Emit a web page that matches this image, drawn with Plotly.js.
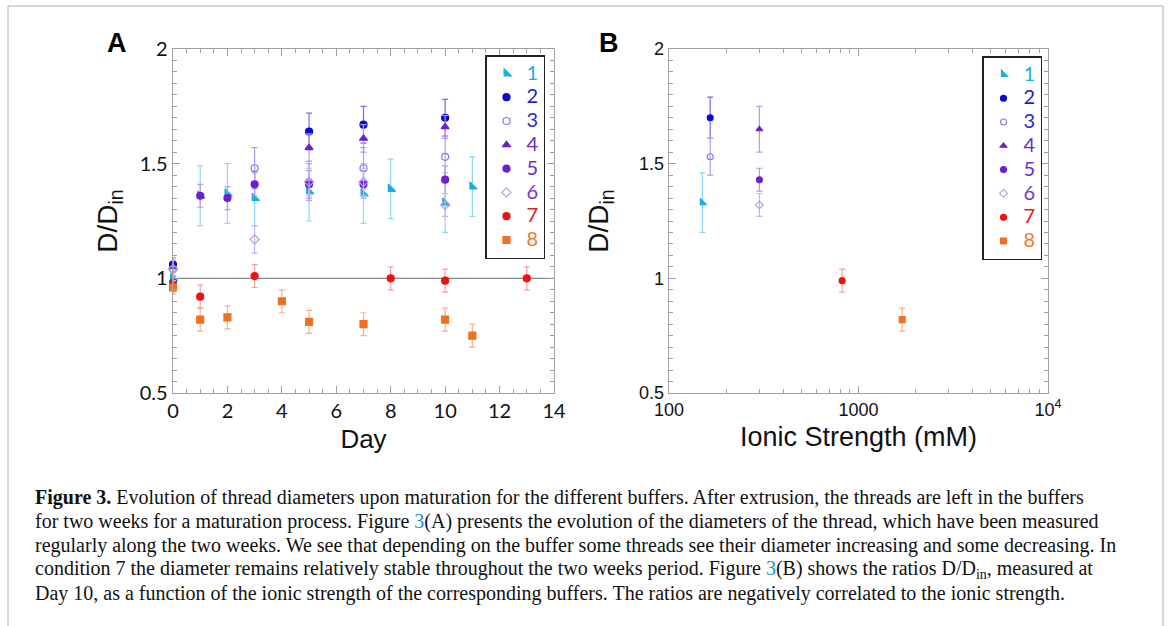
<!DOCTYPE html>
<html><head><meta charset="utf-8">
<script src="https://cdn.plot.ly/plotly-3.0.1.min.js"></script>
<style>html,body{margin:0;padding:0;background:#fff}#chart{width:1170px;height:626px}</style>
</head><body><div id="chart"></div>
<script>
// ---------- Panel A data (Day vs D/Din) ----------
const seriesNames = ['1','2','3','4','5','6','7','8'];
const dayS1 = [0,1,2,3,5,7,8,10,11];
const valS1 = [1.00,1.36,1.37,1.35,1.38,1.37,1.39,1.33,1.40];
const errS1 = [0.03,0.13,0.13,0.12,0.13,0.13,0.13,0.13,0.13];
const dayS2 = [0,5,7,10];
const valS2 = [1.06,1.64,1.67,1.70];
const errS2 = [0.03,0.08,0.08,0.08];
const dayS3 = [0,3,5,7,10];
const valS3 = [1.04,1.48,1.42,1.48,1.53];
const errS3 = [0.04,0.09,0.08,0.09,0.09];
const dayS4 = [0,5,7,10];
const valS4 = [1.05,1.57,1.61,1.66];
const errS4 = [0.04,0.06,0.06,0.05];
const dayS5 = [0,1,2,3,5,7,10];
const valS5 = [0.98,1.36,1.35,1.41,1.41,1.41,1.43];
const errS5 = [0.03,0.05,0.05,0.05,0.06,0.06,0.06];
const dayS6 = [0,3,5,7,10];
const valS6 = [1.04,1.17,1.42,1.42,1.32];
const errS6 = [0.05,0.06,0.06,0.06,0.05];
const dayS7 = [0,1,3,8,10,13];
const valS7 = [0.97,0.92,1.01,1.00,0.99,1.00];
const errS7 = [0.03,0.05,0.05,0.05,0.05,0.05];
const dayS8 = [0,1,2,4,5,7,10,11];
const valS8 = [0.96,0.82,0.83,0.90,0.81,0.80,0.82,0.75];
const errS8 = [0.03,0.05,0.05,0.05,0.05,0.05,0.05,0.05];

// ---------- Panel B data (Ionic strength at Day 10) ----------
const ionicStrength = [150,165,165,300,300,300,820,1700];
const ratioDay10   = [1.33,1.70,1.53,1.65,1.43,1.32,0.99,0.82];
const errDay10     = [0.13,0.09,0.08,0.10,0.05,0.05,0.05,0.05];

// ---------- axis tick labels ----------
const yTickVals = [0.5,1,1.5,2];
const yTickText = ['0.5','1','1.5','2'];
const xTickValsA = [0,2,4,6,8,10,12,14];
const xTickValsB = [100,1000,10000];
const xTickTextB = ['100','1000','10<sup>4</sup>'];

// ---------- styles ----------
const styles = [
  {sym:'triangle-sw', col:'#19aee0', bar:'#8fd7f0', txt:'#1aaee0', size:8},
  {sym:'circle', col:'#0a0ad0', bar:'#7070e2', txt:'#1a1ad0', size:7},
  {sym:'circle-open', col:'#7d7de8', bar:'#a5a5ee', txt:'#2a2ad0', size:7},
  {sym:'triangle-up', col:'#6b1fd0', bar:'#b49ae8', txt:'#6c2ad0', size:7},
  {sym:'circle', col:'#6a1fd0', bar:'#b49ae8', txt:'#6c2ad0', size:7},
  {sym:'diamond-open', col:'#b59ae8', bar:'#c6b2ee', txt:'#7434d0', size:7},
  {sym:'circle', col:'#f01010', bar:'#f4a0a0', txt:'#f01818', size:7},
  {sym:'square', col:'#f07020', bar:'#f5b090', txt:'#f07828', size:7}
];
const dataA = [[dayS1,valS1,errS1],[dayS2,valS2,errS2],[dayS3,valS3,errS3],[dayS4,valS4,errS4],
               [dayS5,valS5,errS5],[dayS6,valS6,errS6],[dayS7,valS7,errS7],[dayS8,valS8,errS8]];

const legendLabel = (s,n) => '<span style="color:'+s.txt+';font-size:20px">'+n+'</span>';

const traces = [];
dataA.forEach((d,i)=>{
  const s = styles[i];
  traces.push({
    type:'scatter', mode:'markers', x:d[0], y:d[1], xaxis:'x', yaxis:'y', legend:'legend',
    name:legendLabel(s,seriesNames[i]),
    cliponaxis:false,
    marker:{symbol:s.sym, color:s.col, size:s.size, line:{color:s.col, width:1.2}},
    error_y:{type:'data', array:d[2], visible:true, color:s.bar, thickness:1.2, width:3}
  });
});
seriesNames.forEach((n,i)=>{
  const s = styles[i];
  traces.push({
    type:'scatter', mode:'markers', x:[ionicStrength[i]], y:[ratioDay10[i]], xaxis:'x2', yaxis:'y2', legend:'legend2',
    name:legendLabel(s,n),
    cliponaxis:false,
    marker:{symbol:s.sym, color:s.col, size:s.size-1, line:{color:s.col, width:1.1}},
    error_y:{type:'data', array:[errDay10[i]], visible:true, color:s.bar, thickness:1.2, width:3}
  });
});

const W=1170, H=626;
const px = v=>v/W, py = v=>1-v/H;
const axLine = '#a0a0a0';
const tickFontA = {family:'Lato, "Open Sans", sans-serif', size:20, color:'#111'};
const tickFontB = {family:'"Liberation Sans", Arial, sans-serif', size:18, color:'#111'};
const titleFont = sz => ({family:'"Liberation Sans", Arial, sans-serif', size:sz, color:'#111'});

const yAxisBase = (dom, anchor, font, standoff) => ({
  domain:dom, anchor:anchor, range:[0.5,2], tickvals:yTickVals, ticktext:yTickText,
  ticks:'inside', ticklen:7, tickcolor:axLine, showline:true, linecolor:axLine, linewidth:1.3,
  mirror:'ticks', showgrid:false, zeroline:false, tickfont:font,
  minor:{dtick:0.05, ticks:'inside', ticklen:4, tickcolor:axLine},
  title:{text:'D/D<sub>in</sub>', font:titleFont(28), standoff:standoff}
});

const minorLog = [];
[100,1000].forEach(dec=>{ for(let k=2;k<=9;k++) minorLog.push(dec*k); });

const legendBase = (x,y) => ({x:x, y:y, xanchor:'left', yanchor:'top', bgcolor:'#fff', bordercolor:'#222', borderwidth:1.5,
    font:{family:'Lato, sans-serif', size:16}, tracegroupgap:0, itemwidth:30});

const layout = {
  width:W, height:H, margin:{l:0,r:0,t:0,b:0}, paper_bgcolor:'#fff', plot_bgcolor:'#fff',
  showlegend:true,
  xaxis:{domain:[px(173),px(554)], anchor:'y', range:[0,14], tickvals:xTickValsA,
    ticks:'inside', ticklen:7, tickcolor:axLine, showline:true, linecolor:axLine, linewidth:1.3,
    mirror:'ticks', showgrid:false, zeroline:false, tickfont:tickFontA,
    minor:{dtick:0.5, ticks:'inside', ticklen:4, tickcolor:axLine},
    title:{text:'Day', font:titleFont(26), standoff:8}},
  yaxis:yAxisBase([py(393),py(49)],'x',tickFontA,14),
  xaxis2:{domain:[px(669),px(1048)], anchor:'y2', type:'log', range:[2,4],
    tickvals:xTickValsB, ticktext:xTickTextB,
    ticks:'inside', ticklen:7, tickcolor:axLine, showline:true, linecolor:axLine, linewidth:1.3,
    mirror:'ticks', showgrid:false, zeroline:false, tickfont:tickFontB,
    minor:{tickvals:minorLog, ticks:'inside', ticklen:4, tickcolor:axLine},
    title:{text:'Ionic Strength (mM)', font:titleFont(27), standoff:8}},
  yaxis2:yAxisBase([py(393),py(49)],'x2',tickFontB,22),
  legend:legendBase(px(485), py(55)),
  legend2:legendBase(px(982), py(56)),
  shapes:[
    {type:'line', xref:'x domain', yref:'y', x0:0, x1:1, y0:1, y1:1, line:{color:'#888', width:1.3}, layer:'below'},
    {type:'rect', xref:'paper', yref:'paper', x0:px(8), x1:px(1163), y0:py(640), y1:py(6), line:{color:'#b0b0b0', width:1}}
  ],
  annotations:[
    {text:'<b>A</b>', xref:'paper', yref:'paper', x:px(117), y:py(43), xanchor:'center', yanchor:'middle', showarrow:false,
      font:{family:'"Liberation Sans", Arial, sans-serif', size:27, color:'#000'}},
    {text:'<b>B</b>', xref:'paper', yref:'paper', x:px(609), y:py(43), xanchor:'center', yanchor:'middle', showarrow:false,
      font:{family:'"Liberation Sans", Arial, sans-serif', size:27, color:'#000'}}
  ]
};

const captionLines = [
  '<b>Figure 3.</b> Evolution of thread diameters upon maturation for the different buffers. After extrusion, the threads are left in the buffers',
  'for two weeks for a maturation process. Figure <span style="color:#1a8fd0">3</span>(A) presents the evolution of the diameters of the thread, which have been measured',
  'regularly along the two weeks. We see that depending on the buffer some threads see their diameter increasing and some decreasing. In',
  'condition 7 the diameter remains relatively stable throughout the two weeks period. Figure <span style="color:#1a8fd0">3</span>(B) shows the ratios D/D<sub>in</sub>, measured at',
  'Day 10, as a function of the ionic strength of the corresponding buffers. The ratios are negatively correlated to the ionic strength.'
];
captionLines.forEach((t,i)=>{
  layout.annotations.push({text:t, xref:'paper', yref:'paper', x:px(33), y:py(497+24*i), xanchor:'left', yanchor:'middle',
    showarrow:false, align:'left', font:{family:'"Liberation Serif", "Times New Roman", serif', size:20, color:'#111'}});
});

Plotly.newPlot('chart', traces, layout, {displayModeBar:false, staticPlot:true});
</script></body></html>
